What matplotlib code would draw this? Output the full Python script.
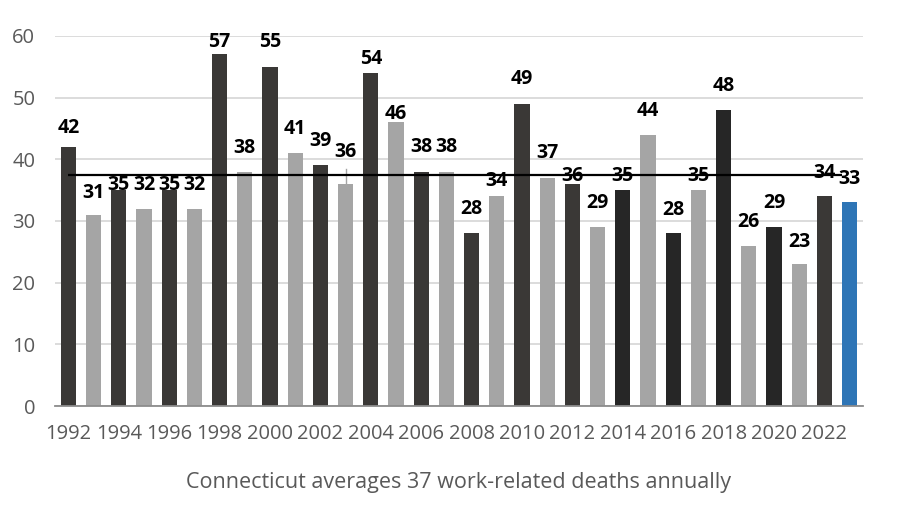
import numpy as np
import matplotlib
matplotlib.use("Agg")
import matplotlib.pyplot as plt

# 数据
years = list(range(1992, 2024))
deaths = [42, 31, 35, 32, 35, 32, 57, 38, 55, 41,
          39, 36, 54, 46, 38, 38, 28, 34, 49, 37,
          36, 29, 35, 44, 28, 35, 48, 26, 29, 23,
          34, 33]
# 标签高度（原图中标签被手动移动过）
label_y = [45.1, 34.5, 35.8, 35.8, 35.8, 35.8, 59.0, 41.8, 59.0, 44.9,
           43.0, 41.2, 56.2, 47.3, 42.0, 42.0, 31.9, 36.5, 53.0, 41.0,
           37.3, 32.9, 37.3, 47.8, 31.8, 37.3, 51.9, 29.8, 32.9, 26.6,
           37.8, 36.8]
tick_labels = [str(y) for y in years[::2]]
xlabel = "Connecticut averages 37 work-related deaths annually"

plt.rcParams['font.family'] = ['Open Sans', 'DejaVu Sans']

colors = []
for i, y in enumerate(years):
    if y == 2023:
        colors.append("#2e75b6")
    elif y % 2 == 1:
        colors.append("#a5a5a5")
    elif 2014 <= y <= 2020:
        colors.append("#262626")
    else:
        colors.append("#3a3836")

fig = plt.figure(figsize=(8.98, 5.12), dpi=100)
ax = fig.add_axes([0.061, 0.207, 0.900, 0.723])

x = np.arange(len(years))
ax.bar(x, deaths, width=0.6, color=colors, zorder=2)

# 平均线
avg = np.mean(deaths)
ax.hlines(avg, 0, len(years) - 1.3, color="black", lw=1.6, zorder=3)

# 数据标签
for xi, v, ly in zip(x, deaths, label_y):
    ax.text(xi, ly, str(v), ha="center", va="center", fontsize=14,
            fontweight="bold", color="black", zorder=4, clip_on=False)

# 2003 标签的引导线
i03 = years.index(2003)
ax.plot([i03, i03], [deaths[i03], label_y[i03] - 2.8], color="#a5a5a5", lw=1, zorder=1)

ax.set_xlim(-0.54, len(years) - 0.47)
ax.set_ylim(0, 60)
ax.set_yticks(range(0, 61, 10))
ax.set_xticks(x[::2])
ax.set_xticklabels(tick_labels)
ax.tick_params(axis="both", length=0, labelsize=14.5, colors="#595959")
ax.tick_params(axis="x", pad=13)
ax.tick_params(axis="y", pad=14)

ax.grid(axis="y", color="#d9d9d9", lw=1.3, zorder=0)
for s in ["top", "right", "left"]:
    ax.spines[s].set_visible(False)
ax.spines["bottom"].set_color("#8c8c8c")
ax.spines["bottom"].set_linewidth(1.3)
ax.spines["bottom"].set_zorder(3)

ax.set_xlabel(xlabel, fontsize=15.5, color="#595959", labelpad=20)

plt.savefig("out.png", dpi=100)
